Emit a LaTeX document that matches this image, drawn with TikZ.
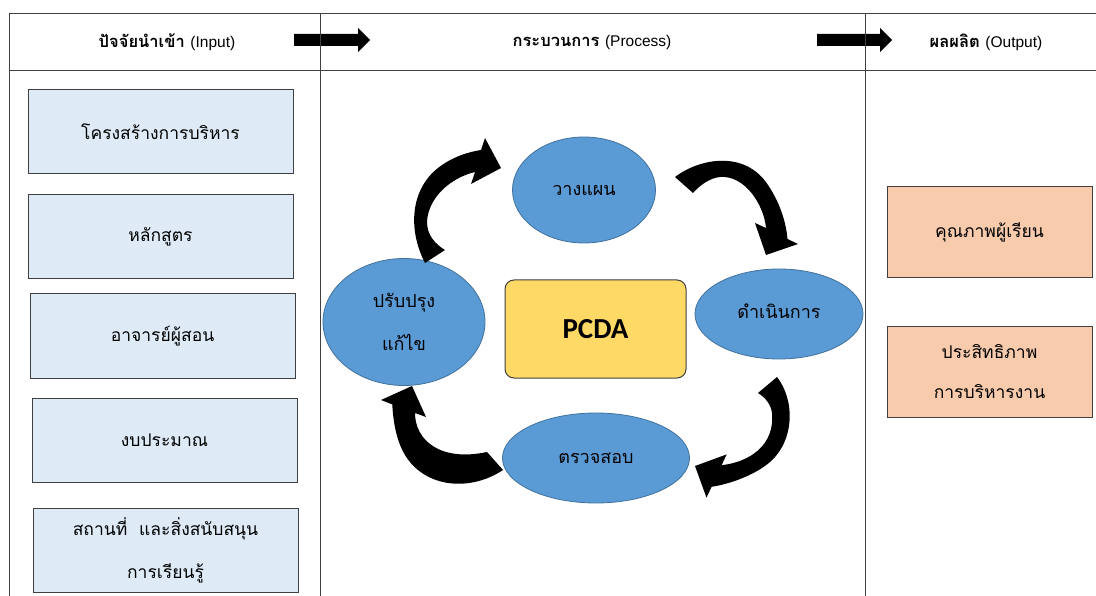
\documentclass[tikz,border=0pt]{standalone}
\usepackage{fontspec}
\setmainfont{Loma}[Script=Thai]
\newfontfamily\latinfont{Liberation Sans}
\newfontfamily\pcdafont{Carlito}
\usetikzlibrary{shapes.geometric}
\definecolor{inboxc}{HTML}{DEEBF7}
\definecolor{outboxc}{HTML}{F8CBAD}
\definecolor{ellblue}{HTML}{5B9BD5}
\definecolor{ellborder}{HTML}{41719C}
\definecolor{pcdayel}{HTML}{FFD966}
\definecolor{gridline}{HTML}{404040}
\begin{document}
\begin{tikzpicture}[x=1pt,y=-1pt,
  gridln/.style={draw=gridline,line width=1pt},
  hdr/.style={font=\fontsize{16.5}{20}\selectfont},
  hdrlatin/.style={},
  inbox/.style={draw=gridline,fill=inboxc,line width=1pt,minimum width=265pt,minimum height=84pt,inner sep=0pt,align=center,font=\fontsize{17.5}{43}\selectfont},
  outbox/.style={draw=gridline,fill=outboxc,line width=1pt,minimum width=205pt,minimum height=91pt,inner sep=0pt,align=center,font=\fontsize{17.5}{40}\selectfont},
  stage/.style={ellipse,draw=ellborder,fill=ellblue,line width=0.8pt,inner sep=0pt,align=center,font=\fontsize{18}{43}\selectfont},
  blockarrow/.style={fill=black,draw=none},
  hdrarrow/.style={fill=black,draw=none}
]
\useasboundingbox (0,0) rectangle (1096,596);
% header arrows
\fill[hdrarrow] (294,34) -- (358,34) -- (358,28) -- (370,40) -- (358,52) -- (358,46) -- (294,46) -- cycle;
\fill[hdrarrow] (817,34) -- (880,34) -- (880,28) -- (892,40) -- (880,52) -- (880,46) -- (817,46) -- cycle;
% table grid
\draw[gridln] (9,596) -- (9,14) -- (1096,14);
\draw[gridln] (9,71) -- (1096,71);
\draw[gridln] (320,14) -- (320,596);
\draw[gridln] (865,14) -- (865,596);
% header texts
\node[hdr] (hin) at (167,42) {\textbf{ปัจจัยนำเข้า} {\latinfont\fontsize{15.5}{18}\selectfont(Input)}};
\node[hdr] (hproc) at (592,42) {\textbf{กระบวนการ} {\latinfont\fontsize{15.5}{18}\selectfont(Process)}};
\node[hdr] (hout) at (986,42) {\textbf{ผลผลิต} {\latinfont\fontsize{15.5}{18}\selectfont(Output)}};
% input boxes
\node[inbox] (b1) at (160.5,132) {โครงสร้างการบริหาร};
\node[inbox] (b2) at (160.5,236.5) {หลักสูตร};
\node[inbox] (b3) at (162.5,336) {อาจารย์ผู้สอน};
\node[inbox] (b4) at (164.5,440) {งบประมาณ};
\node[inbox] (b5) at (165.5,550) {สถานที่\ \ และสิ่งสนับสนุน\\การเรียนรู้};
% output boxes
\node[outbox] (o1) at (989.5,232.5) {คุณภาพผู้เรียน};
\node[outbox] (o2) at (989.5,372) {ประสิทธิภาพ\\การบริหารงาน};
% PDCA cycle
\node[stage,minimum width=143pt,minimum height=106pt] (plan) at (584,190) {วางแผน};
\node[stage,minimum width=168pt,minimum height=90pt] (do) at (779,314) {\raisebox{5pt}{ดำเนินการ}};
\node[stage,minimum width=187pt,minimum height=90pt] (check) at (596,458) {ตรวจสอบ};
\node[stage,minimum width=162pt,minimum height=127pt] (act) at (404,322) {ปรับปรุง\\แก้ไข};
\node[draw=gridline,fill=pcdayel,rounded corners=9pt,line width=1pt,minimum width=181pt,minimum height=98pt,font=\pcdafont\bfseries\fontsize{29}{34}\selectfont] (pcda) at (595.5,329) {PCDA};
% curved block arrows (Office-style curved arrows)
% act -> plan
\fill[blockarrow] (445,250) -- (425,263)
  .. controls (408,230) and (410,190) .. (438,168)
  .. controls (452,157) and (468,152) .. (481,150)
  -- (485,138) -- (501,168) -- (471,184) -- (475,172)
  .. controls (450,178) and (428,198) .. (427,222)
  .. controls (427,235) and (435,244) .. (445,250) -- cycle;
% plan -> do
\fill[blockarrow] (693,193) -- (675,177)
  .. controls (700,158) and (745,150) .. (768,185)
  .. controls (780,203) and (786,222) .. (787.5,239)
  -- (798,244) -- (766,255) -- (755,223) -- (766,228)
  .. controls (764,205) and (745,175) .. (720,177)
  .. controls (710,178) and (700,185) .. (693,193) -- cycle;
% do -> check
\fill[blockarrow] (758,393) -- (777,377)
  .. controls (795,400) and (795,440) .. (770,462)
  .. controls (755,475) and (730,484) .. (711.6,486.8)
  -- (706.5,497.6) -- (695,466) -- (726.7,454.4) -- (721.6,465.2)
  .. controls (750,462) and (775,445) .. (772,413)
  .. controls (771,405) and (766,398) .. (758,393) -- cycle;
% check -> act
\fill[blockarrow] (487,452) -- (503,470)
  .. controls (470,492) and (425,488) .. (405,455)
  .. controls (396,440) and (393,420) .. (392.3,404.4)
  -- (381,400) -- (412,386) -- (426,417) -- (415,413)
  .. controls (415,440) and (440,462) .. (487,452) -- cycle;
\end{tikzpicture}
\end{document}
